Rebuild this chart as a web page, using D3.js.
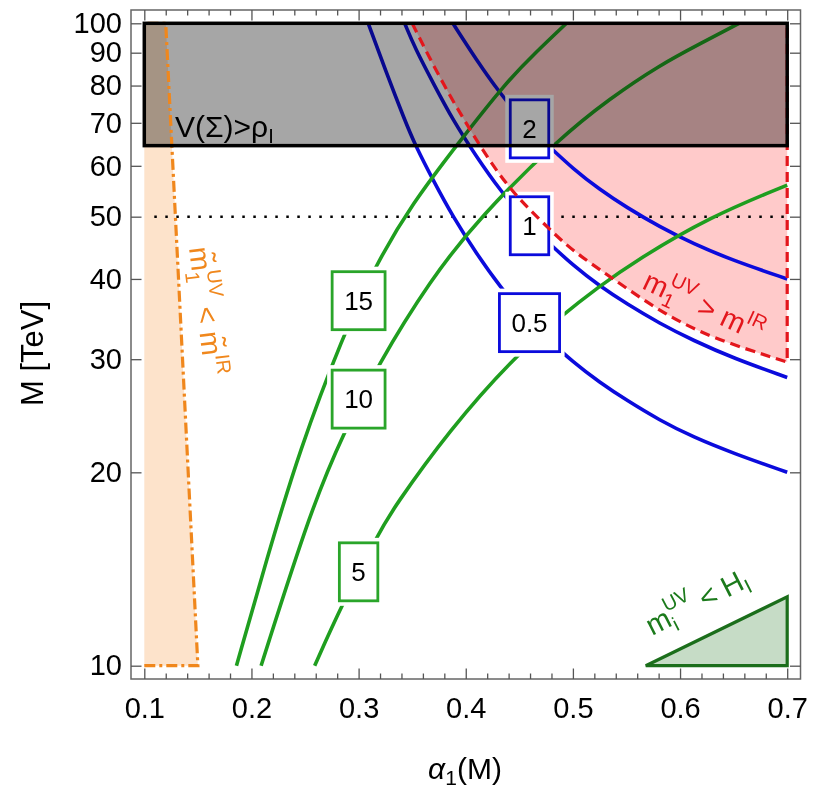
<!DOCTYPE html>
<html>
<head>
<meta charset="utf-8">
<script src="https://cdn.jsdelivr.net/npm/d3@7"></script>
<style>
  body { margin: 0; background: #fff; }
  text { font-family: "Liberation Sans", Arial, sans-serif; }
</style>
</head>
<body>
<div id="chart"></div>
<script>
// axis ticks
var xTicks = [0.1, 0.2, 0.3, 0.4, 0.5, 0.6, 0.7];
var xMinorTicks = [0.12, 0.14, 0.16, 0.18, 0.22, 0.24, 0.26, 0.28, 0.32, 0.34, 0.36, 0.38,
    0.42, 0.44, 0.46, 0.48, 0.52, 0.54, 0.56, 0.58, 0.62, 0.64, 0.66, 0.68];
var yTicks = [10, 20, 30, 40, 50, 60, 70, 80, 90, 100];

// blue contours [alpha1, M]
var blueHalf = [[0.309, 100], [0.325, 84.5], [0.343, 70.7], [0.353, 64.5], [0.37, 56.8], [0.388, 50],
    [0.41, 43.8], [0.432, 38.9], [0.455, 35.0], [0.477, 32.2], [0.50, 29.7], [0.525, 27.6],
    [0.55, 25.9], [0.581, 24.1], [0.612, 22.7], [0.65, 21.4], [0.7, 20.0]];
var blueOne = [[0.343, 100], [0.353, 91.2], [0.37, 80.5], [0.388, 70.7], [0.41, 62], [0.432, 55.0],
    [0.455, 49.4], [0.477, 45.6], [0.50, 42.0], [0.525, 39.0], [0.55, 36.6], [0.581, 34.1],
    [0.612, 32.1], [0.65, 30.1], [0.7, 28.1]];
var blueTwo = [[0.388, 100], [0.41, 87.7], [0.432, 77.8], [0.455, 69.9], [0.477, 64.5], [0.50, 59.4],
    [0.525, 55.1], [0.55, 51.7], [0.581, 48.2], [0.612, 45.4], [0.65, 42.7], [0.7, 40.0]];

// green contours [alpha1, M]
var greenFifteen = [[0.186, 10], [0.215, 14.8], [0.245, 21.7], [0.285, 32.5], [0.316, 42.1], [0.35, 52.4],
    [0.3915, 64.6], [0.438, 81.1], [0.466, 90.3], [0.494, 100]];
var greenTen = [[0.209, 10], [0.2565, 17.7], [0.2854, 22.9], [0.318, 29.4], [0.3667, 39.8], [0.4133, 50],
    [0.4873, 66.2], [0.5346, 76.4], [0.581, 86.1], [0.62, 93.2], [0.655, 100]];
var greenFive = [[0.259, 10], [0.284, 12.4], [0.318, 16.0], [0.3325, 17.6], [0.385, 23.3], [0.444, 30.1],
    [0.4907, 35.2], [0.5224, 38.7], [0.5595, 42.8], [0.628, 50], [0.7, 56]];

// contour labels
var contourLabels = [
    {text: "15", a: 0.30, m: 37, kind: "green"},
    {text: "10", a: 0.30, m: 26, kind: "green"},
    {text: "5", a: 0.30, m: 14.0, kind: "green"},
    {text: "0.5", a: 0.4595, m: 34.2, kind: "blue"},
    {text: "1", a: 0.4595, m: 48.4, kind: "blue"},
    {text: "2", a: 0.4595, m: 68.5, kind: "blue"}
];

// excluded regions
var redBoundary = [[0.35, 100], [0.379, 80.1], [0.4133, 64.3], [0.441, 55.0], [0.4787, 47.7], [0.50, 44.2],
    [0.535, 40.3], [0.581, 35.6], [0.628, 32.4], [0.7, 29.7]];
var redEdge = [[0.7, 29.7], [0.7, 100]];
var orangeRegion = [[0.1, 10], [0.15, 10], [0.12, 100], [0.1, 100]];
var greenRegion = [[0.568, 10], [0.7, 10], [0.7, 12.8]];
var vacuumBox = {a0: 0.1, a1: 0.7, m0: 64.5, m1: 100};
var dottedLevel = 50;

var drawChart = (function () {

    var blue = "#0b0bdc", green = "#1f9e1f", red = "#e3161c", orange = "#f0871c";

    function go() {
        var svg = d3.select("#chart")
            .append("svg")
            .attr("width", 813)
            .attr("height", 790);

        var x = d3.scaleLinear().domain([0.1, 0.7]).range([144.3, 787.2]);
        var y = d3.scaleLog().domain([10, 100]).range([665.7, 23.3]);
        var pad = 13.3;
        var fl = x(0.1) - pad, fr = x(0.7) + pad, ft = y(100) - pad, fb = y(10) + pad;

        var smooth = d3.line()
            .curve(d3.curveBasis)
            .x(function (d) { return x(d[0]); })
            .y(function (d) { return y(d[1]); });
        var straight = d3.line()
            .x(function (d) { return x(d[0]); })
            .y(function (d) { return y(d[1]); });

        // filled regions
        svg.append("path")
            .attr("d", straight(orangeRegion) + "Z")
            .attr("fill", "#fde3cb");
        svg.append("path")
            .attr("d", smooth(redBoundary) + "L" + x(0.7) + "," + y(100) + "Z")
            .attr("fill", "#ffcaca");
        svg.append("path")
            .attr("d", straight(greenRegion) + "Z")
            .attr("fill", "#c6dcc6");

        // dotted line
        svg.append("line")
            .attr("x1", x(0.1) + 10).attr("x2", x(0.7))
            .attr("y1", y(dottedLevel)).attr("y2", y(dottedLevel))
            .attr("stroke", "#000")
            .attr("stroke-width", 2.5)
            .attr("stroke-dasharray", "2.5,8.5");

        // contours
        [blueHalf, blueOne, blueTwo].forEach(function (c) {
            svg.append("path").attr("d", smooth(c))
                .attr("fill", "none").attr("stroke", blue).attr("stroke-width", 3.6);
        });
        [greenFifteen, greenTen, greenFive].forEach(function (c) {
            svg.append("path").attr("d", smooth(c))
                .attr("fill", "none").attr("stroke", green).attr("stroke-width", 3.6);
        });

        // contour label boxes
        contourLabels.forEach(function (l) {
            var g = svg.append("g").attr("transform", "translate(" + x(l.a) + "," + y(l.m) + ")");
            var bg = g.append("rect").attr("fill", "#fff");
            var box = g.append("rect").attr("fill", "#fff")
                .attr("stroke", l.kind == "blue" ? blue : "#2aa52a").attr("stroke-width", 2.8);
            var t = g.append("text")
                .attr("text-anchor", "middle")
                .attr("dy", "0.36em")
                .style("font-size", "26px")
                .text(l.text);
            var w = t.node().getComputedTextLength() + 24, h = 58;
            box.attr("x", -w / 2).attr("y", -h / 2).attr("width", w).attr("height", h);
            bg.attr("x", -w / 2 - 5).attr("y", -h / 2 - 5).attr("width", w + 10).attr("height", h + 10);
        });

        // vacuum energy box, multiplied over everything under it
        svg.append("rect")
            .attr("x", x(vacuumBox.a0)).attr("y", y(vacuumBox.m1))
            .attr("width", x(vacuumBox.a1) - x(vacuumBox.a0))
            .attr("height", y(vacuumBox.m0) - y(vacuumBox.m1))
            .attr("fill", "#a6a6a6")
            .style("mix-blend-mode", "multiply");

        // region boundaries
        svg.append("path")
            .attr("d", smooth(redBoundary) + straight(redEdge).replace("M", "L"))
            .attr("fill", "none").attr("stroke", red).attr("stroke-width", 3.2)
            .attr("stroke-dasharray", "10,6");
        svg.append("path")
            .attr("d", straight(orangeRegion))
            .attr("fill", "none").attr("stroke", orange).attr("stroke-width", 3.2)
            .attr("stroke-dasharray", "11,4,3,4");
        svg.append("path")
            .attr("d", straight(greenRegion) + "Z")
            .attr("fill", "none").attr("stroke", "#1b6e1b").attr("stroke-width", 3.2);

        svg.append("rect")
            .attr("x", x(vacuumBox.a0)).attr("y", y(vacuumBox.m1))
            .attr("width", x(vacuumBox.a1) - x(vacuumBox.a0))
            .attr("height", y(vacuumBox.m0) - y(vacuumBox.m1))
            .attr("fill", "none").attr("stroke", "#000").attr("stroke-width", 3.5);

        // region labels
        var vt = svg.append("text")
            .attr("x", 175).attr("y", 137)
            .style("font-size", "30px");
        vt.append("tspan").text("V(\u03a3)>\u03c1");
        vt.append("tspan").attr("dy", 6).style("font-size", "20px").text("I");

        var ot = svg.append("text")
            .attr("transform", "translate(189,248) rotate(83)")
            .attr("fill", orange)
            .style("font-size", "29px");
        ot.append("tspan").text("m\u0303");
        ot.append("tspan").attr("dy", 7).style("font-size", "20px").text("1");
        ot.append("tspan").attr("dx", -11).attr("dy", -22).style("font-size", "20px").text("UV");
        ot.append("tspan").attr("dy", 15).text(" < m\u0303");
        ot.append("tspan").attr("dy", -13).style("font-size", "20px").text("IR");

        var rt = svg.append("text")
            .attr("transform", "translate(641,288) rotate(25)")
            .attr("fill", red)
            .style("font-size", "29px");
        rt.append("tspan").text("m");
        rt.append("tspan").attr("dy", 7).style("font-size", "20px").text("1");
        rt.append("tspan").attr("dx", -11).attr("dy", -22).style("font-size", "20px").text("UV");
        rt.append("tspan").attr("dy", 15).text(" > m");
        rt.append("tspan").attr("dy", -13).style("font-size", "20px").text("IR");

        var gt = svg.append("text")
            .attr("transform", "translate(652,636) rotate(-27)")
            .attr("fill", "#1b7a1b")
            .style("font-size", "29px");
        gt.append("tspan").text("m");
        gt.append("tspan").attr("dy", 7).style("font-size", "20px").text("i");
        gt.append("tspan").attr("dx", -5).attr("dy", -22).style("font-size", "20px").text("UV");
        gt.append("tspan").attr("dy", 15).text(" < H");
        gt.append("tspan").attr("dy", 6).style("font-size", "20px").text("I");

        // frame and ticks
        svg.append("rect")
            .attr("x", fl).attr("y", ft).attr("width", fr - fl).attr("height", fb - ft)
            .attr("fill", "none").attr("stroke", "#666").attr("stroke-width", 1.5);

        function styleAxis(g) {
            g.select(".domain").remove();
            g.selectAll(".tick line").attr("stroke", "#555").attr("stroke-width", 1.3);
            g.selectAll("text").attr("fill", "#000")
                .style("font-family", "'Liberation Sans', Arial, sans-serif")
                .style("font-size", "29px");
        }

        svg.append("g").attr("transform", "translate(0," + fb + ")")
            .call(d3.axisBottom(x).tickValues(xTicks).tickSize(-10.5).tickPadding(18)
                .tickFormat(d3.format(".1f")))
            .call(styleAxis);
        svg.append("g").attr("transform", "translate(0," + fb + ")")
            .call(d3.axisBottom(x).tickValues(xMinorTicks).tickSize(-5.5).tickFormat(""))
            .call(styleAxis);
        svg.append("g").attr("transform", "translate(0," + ft + ")")
            .call(d3.axisTop(x).tickValues(xTicks).tickSize(-10.5).tickFormat(""))
            .call(styleAxis);
        svg.append("g").attr("transform", "translate(0," + ft + ")")
            .call(d3.axisTop(x).tickValues(xMinorTicks).tickSize(-5.5).tickFormat(""))
            .call(styleAxis);
        svg.append("g").attr("transform", "translate(" + fl + ",0)")
            .call(d3.axisLeft(y).tickValues(yTicks).tickSize(-10.5).tickPadding(9)
                .tickFormat(d3.format("d")))
            .call(styleAxis);
        svg.append("g").attr("transform", "translate(" + fr + ",0)")
            .call(d3.axisRight(y).tickValues(yTicks).tickSize(-10.5).tickFormat(""))
            .call(styleAxis);

        // axis titles
        svg.append("text")
            .attr("transform", "translate(43," + ((ft + fb) / 2 + 9) + ") rotate(-90)")
            .attr("text-anchor", "middle")
            .style("font-size", "31px")
            .text("M [TeV]");
        var xt = svg.append("text")
            .attr("x", 465).attr("y", 779)
            .attr("text-anchor", "middle")
            .style("font-size", "30px");
        xt.append("tspan").style("font-style", "italic").text("\u03b1");
        xt.append("tspan").attr("dy", 6).style("font-size", "21px").text("1");
        xt.append("tspan").attr("dy", -6).text("(M)");
    }

    document.addEventListener("DOMContentLoaded", function (event) {
        go();
    });
}());
</script>
</body>
</html>
